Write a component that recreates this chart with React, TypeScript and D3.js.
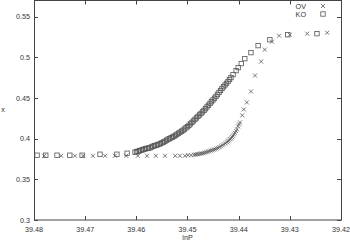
import React, { useEffect, useRef } from 'react';
import * as d3 from 'd3';

// lnP values (x axis is reversed: 39.48 on the left, 39.42 on the right)
const ovLnP = [
  39.478, 39.4747, 39.472, 39.4704, 39.4685, 39.4661, 39.4642, 39.462, 39.4597, 39.4579,
  39.4562, 39.4544, 39.4524, 39.4515, 39.4505, 39.4499, 39.4493,
  39.44873, 39.44844, 39.44814, 39.44785, 39.44756, 39.44726, 39.44697, 39.44668, 39.44638, 39.44609,
  39.4458, 39.4455, 39.44521, 39.44492, 39.44463, 39.44433, 39.44404, 39.44375, 39.44345, 39.44316,
  39.44287, 39.44257, 39.44228, 39.44208, 39.44189, 39.44169, 39.4415, 39.4413, 39.44111, 39.44091,
  39.44072, 39.44052, 39.44033, 39.44013, 39.43993, 39.43974,
  39.4393, 39.439, 39.4384, 39.4376, 39.4368, 39.4356, 39.4349, 39.4335, 39.4321, 39.43, 39.4266, 39.4227,
];
const ovX = [
  0.379, 0.379, 0.379, 0.379, 0.379, 0.379, 0.379, 0.379, 0.379, 0.379,
  0.379, 0.379, 0.379, 0.379, 0.379, 0.3797, 0.3797,
  0.3803, 0.3805, 0.3809, 0.3811, 0.3815, 0.3819, 0.3821, 0.3827, 0.3833, 0.3839,
  0.3846, 0.3852, 0.3858, 0.3864, 0.387, 0.3879, 0.3888, 0.3897, 0.3907, 0.3919,
  0.3931, 0.3944, 0.3956, 0.3968, 0.398, 0.3993, 0.4005, 0.402, 0.4036, 0.4054,
  0.4072, 0.4093, 0.4115, 0.4152, 0.4176, 0.4201,
  0.4287, 0.436, 0.4446, 0.4581, 0.4777, 0.4949, 0.5096, 0.5194, 0.5267, 0.5279, 0.5292, 0.5304,
];

const koLnP = [
  39.4794, 39.4777, 39.4755, 39.473, 39.4706, 39.4671, 39.4638, 39.4618,
  39.46026, 39.45997, 39.45967, 39.45938, 39.45909, 39.45879, 39.4585, 39.45821, 39.45792, 39.45762,
  39.45733, 39.45704, 39.45674, 39.45645, 39.45616, 39.45586, 39.45557, 39.45528, 39.45498, 39.45469,
  39.4544, 39.4541, 39.45381, 39.45352, 39.45322, 39.45293, 39.45264, 39.45235, 39.45205, 39.45176,
  39.45147, 39.45117, 39.45088, 39.45059, 39.45029, 39.45, 39.44971, 39.44941, 39.44912, 39.44883,
  39.44853, 39.44824, 39.44795, 39.44765, 39.44736, 39.44707, 39.44678, 39.44648, 39.44619, 39.4459,
  39.4456, 39.44531, 39.44502, 39.44472, 39.44443, 39.44414, 39.44384, 39.44355, 39.44326, 39.44296,
  39.44267, 39.44238, 39.44208, 39.44179, 39.4415,
  39.4411, 39.4405, 39.4401, 39.4395, 39.4388, 39.4376, 39.4362, 39.4339, 39.4304, 39.4247,
];
const koX = [
  0.3797, 0.3797, 0.3797, 0.3797, 0.3797, 0.3809, 0.3809, 0.3821,
  0.3833, 0.3839, 0.3846, 0.3852, 0.3858, 0.3864, 0.387, 0.3876, 0.3882, 0.3885,
  0.3888, 0.3898, 0.3907, 0.3913, 0.3919, 0.3925, 0.3931, 0.394, 0.395, 0.3958,
  0.3968, 0.398, 0.3993, 0.4001, 0.4011, 0.402, 0.4029, 0.4042, 0.4054, 0.4066,
  0.4078, 0.4091, 0.4103, 0.4118, 0.4134, 0.4148, 0.4164, 0.4183, 0.4201, 0.4219,
  0.4238, 0.4256, 0.4275, 0.4293, 0.4311, 0.433, 0.4348, 0.4369, 0.4391, 0.4412,
  0.4434, 0.4455, 0.4477, 0.4498, 0.452, 0.4544, 0.4569, 0.4593, 0.4618, 0.4639,
  0.4661, 0.4681, 0.4703, 0.4728, 0.4752,
  0.4789, 0.4838, 0.4875, 0.4924, 0.4985, 0.5059, 0.5145, 0.5218, 0.5279, 0.5292,
];

const xTicks = [39.48, 39.47, 39.46, 39.45, 39.44, 39.43, 39.42];
const yTicks = [0.3, 0.35, 0.4, 0.45, 0.5, 0.55];

const W = 350;
const H = 240;

const App: React.FC = () => {
  const svgRef = useRef<SVGSVGElement>(null);

  useEffect(() => {
    if (!svgRef.current) return;
    const svg = d3.select(svgRef.current);
    svg.selectAll('*').remove();

    const left = 34, right = 341, top = 0.5, bottom = 220;
    const x = d3.scaleLinear().domain([39.48, 39.42]).range([left, right]);
    const y = d3.scaleLinear().domain([0.3, 0.57]).range([bottom, top]);

    const ink = '#444';
    const txt = '#333';
    const font = 'Liberation Sans, Arial, sans-serif';
    const fs = 7.2;

    // ticks (inward, mirrored on all sides)
    const tl = 4;
    const g = svg.append('g').attr('stroke', ink).attr('stroke-width', 1);
    xTicks.forEach(t => {
      const px = Math.round(x(t)) + 0.5;
      g.append('line').attr('x1', px).attr('x2', px).attr('y1', bottom).attr('y2', bottom - tl);
      g.append('line').attr('x1', px).attr('x2', px).attr('y1', top).attr('y2', top + tl);
    });
    yTicks.forEach(t => {
      const py = Math.round(y(t)) + 0.5;
      g.append('line').attr('x1', left).attr('x2', left + tl).attr('y1', py).attr('y2', py);
      g.append('line').attr('x1', right).attr('x2', right - tl).attr('y1', py).attr('y2', py);
    });

    // frame
    svg.append('rect')
      .attr('x', left + 0.5).attr('y', top)
      .attr('width', right - left).attr('height', bottom - top)
      .attr('fill', 'none').attr('stroke', ink).attr('stroke-width', 1);

    // tick labels
    svg.append('g').selectAll('text').data(xTicks).enter().append('text')
      .attr('x', d => x(d)).attr('y', 231.5)
      .attr('text-anchor', 'middle').attr('font-family', font).attr('font-size', fs)
      .attr('fill', txt).text(d => d.toFixed(2));
    svg.append('g').selectAll('text').data(yTicks).enter().append('text')
      .attr('x', 30).attr('y', d => y(d) + 2.6)
      .attr('text-anchor', 'end').attr('font-family', font).attr('font-size', fs)
      .attr('fill', txt).text(d => String(+d.toFixed(2)));

    // axis labels
    svg.append('text').attr('x', x(39.45)).attr('y', 239.5)
      .attr('text-anchor', 'middle').attr('font-family', font).attr('font-size', fs)
      .attr('fill', txt).text('lnP');
    svg.append('text').attr('x', 3).attr('y', 112)
      .attr('text-anchor', 'middle').attr('font-family', font).attr('font-size', fs)
      .attr('fill', txt).text('x');

    const mark = '#555';
    const cross = (sel: d3.Selection<SVGGElement, unknown, null, undefined>, cx: number, cy: number) => {
      const s = 2;
      sel.append('path')
        .attr('d', `M${cx - s},${cy - s}L${cx + s},${cy + s}M${cx - s},${cy + s}L${cx + s},${cy - s}`)
        .attr('stroke', mark).attr('stroke-width', 0.8).attr('fill', 'none');
    };
    const square = (sel: d3.Selection<SVGGElement, unknown, null, undefined>, cx: number, cy: number) => {
      const s = 2.2;
      sel.append('rect')
        .attr('x', cx - s).attr('y', cy - s).attr('width', 2 * s).attr('height', 2 * s)
        .attr('stroke', mark).attr('stroke-width', 0.8).attr('fill', 'none');
    };

    const ovG = svg.append('g');
    ovLnP.forEach((p, i) => cross(ovG, x(p), y(ovX[i])));
    const koG = svg.append('g');
    koLnP.forEach((p, i) => square(koG, x(p), y(koX[i])));

    // legend
    const lg = svg.append('g');
    lg.append('text').attr('x', 306).attr('y', 8.5).attr('text-anchor', 'end')
      .attr('font-family', font).attr('font-size', fs).attr('fill', txt).text('OV');
    lg.append('text').attr('x', 306).attr('y', 16.5).attr('text-anchor', 'end')
      .attr('font-family', font).attr('font-size', fs).attr('fill', txt).text('KO');
    cross(lg, 323, 6);
    square(lg, 323, 14);
  }, []);

  return (
    <div style={{ position: 'fixed', left: 0, top: 0, width: W, height: H, background: '#fff' }}>
      <svg ref={svgRef} width={W} height={H} />
    </div>
  );
};

export default App;
